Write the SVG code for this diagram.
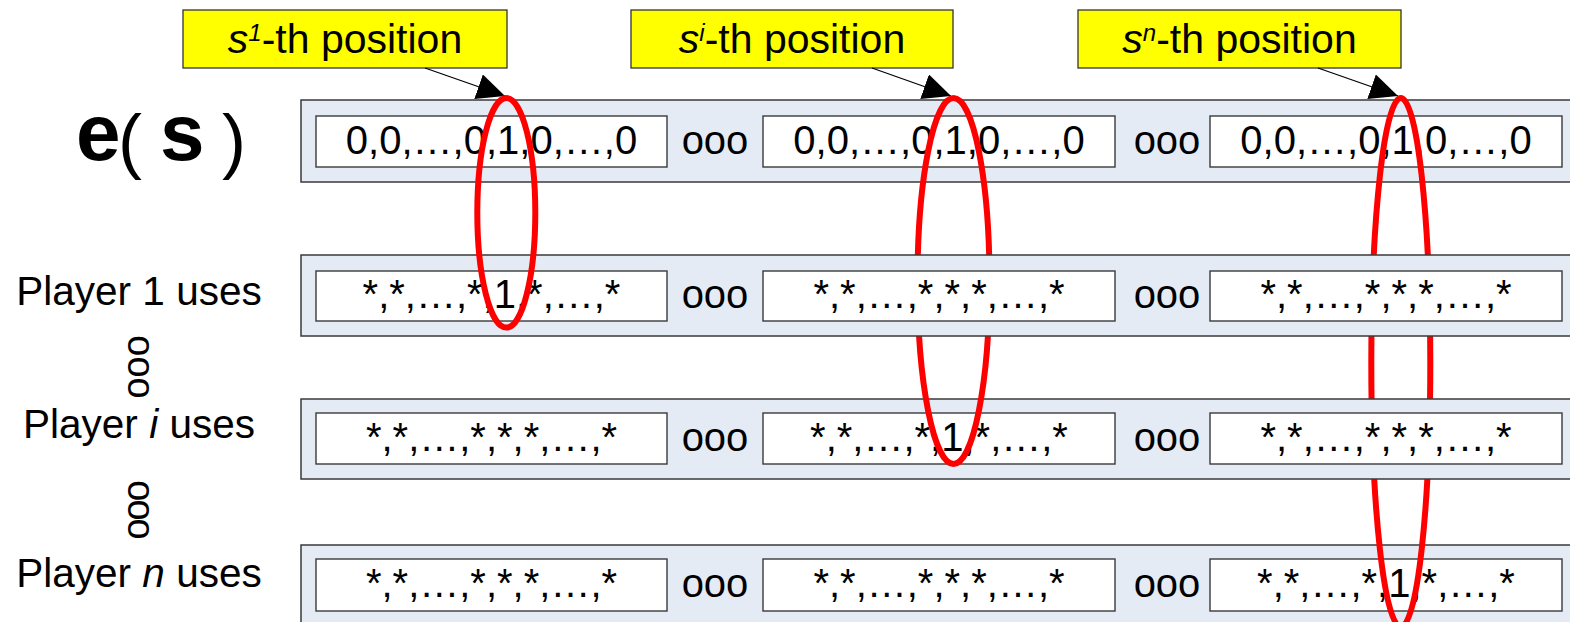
<svg xmlns="http://www.w3.org/2000/svg" width="1570" height="622" viewBox="0 0 1570 622">
  <style>
    text { font-family: "Liberation Sans", Arial, sans-serif; fill: #000; }
    .row { fill: #E4EBF5; stroke: #3a3a3a; stroke-width: 1.5; }
    .cell { fill: #FFFFFF; stroke: #3a3a3a; stroke-width: 1.4; }
    .vec { font-size: 40px; text-anchor: middle; }
    .gap { font-size: 40px; text-anchor: middle; }
    .lbl { font-size: 40.5px; text-anchor: middle; }
    .call { fill: #FFFF00; stroke: #333; stroke-width: 1.3; }
    .ctext { font-size: 41px; text-anchor: middle; }
    .sup { font-size: 24px; font-style: italic; }
    .ring { fill: none; stroke: #FF0000; stroke-width: 6; }
    .arrow { stroke: #000; stroke-width: 1.3; fill: none; marker-end: url(#head); }
    .vdots { font-size: 38px; text-anchor: middle; }
    .big { font-size: 80px; font-weight: bold; }
    .paren { font-size: 72px; }
  </style>
  <defs>
    <marker id="head" viewBox="0 0 28 26" refX="28" refY="13" markerWidth="28" markerHeight="26" markerUnits="userSpaceOnUse" orient="auto">
      <path d="M0,0 L28,13 L0,26 z" fill="#000"/>
    </marker>
  </defs>

  <!-- row labels -->
  <g id="label-es">
    <text class="big" x="76" y="160">e</text>
    <text class="paren" x="118" y="165">(</text>
    <text class="big" x="160" y="160">s</text>
    <text class="paren" x="222" y="165">)</text>
  </g>
  <g id="label-player1"><text class="lbl" x="139" y="305">Player 1 uses</text></g>
  <g id="dots-1"><text class="vdots" x="0" y="9" transform="translate(136.5,367) rotate(90)">ooo</text></g>
  <g id="label-playeri"><text class="lbl" x="139" y="438">Player <tspan font-style="italic">i</tspan> uses</text></g>
  <g id="dots-2"><text class="vdots" x="0" y="9" letter-spacing="-2" transform="translate(136.5,509) rotate(90)">ooo</text></g>
  <g id="label-playern"><text class="lbl" x="139" y="587">Player <tspan font-style="italic">n</tspan> uses</text></g>

  <!-- callouts -->
  <g id="callout-1">
    <rect class="call" x="183" y="10" width="324" height="58"/>
    <text class="ctext" x="345" y="53"><tspan font-style="italic">s</tspan><tspan class="sup" dy="-12">1</tspan><tspan dy="12">-th position</tspan></text>
  </g>
  <g id="callout-i">
    <rect class="call" x="631" y="10" width="322" height="58"/>
    <text class="ctext" x="792" y="53"><tspan font-style="italic">s</tspan><tspan class="sup" dy="-12">i</tspan><tspan dy="12">-th position</tspan></text>
  </g>
  <g id="callout-n">
    <rect class="call" x="1078" y="10" width="323" height="58"/>
    <text class="ctext" x="1239.5" y="53"><tspan font-style="italic">s</tspan><tspan class="sup" dy="-12">n</tspan><tspan dy="12">-th position</tspan></text>
  </g>

  <!-- e(s) vector -->
  <g id="row-es">
    <rect class="row" x="301" y="100" width="1290" height="82"/>
    <rect class="cell" x="316" y="116" width="351" height="51"/>
    <rect class="cell" x="763" y="116" width="352" height="51"/>
    <rect class="cell" x="1210" y="116" width="352" height="51"/>
    <text class="vec" x="491.5" y="154">0,0,…,0,1,0,…,0</text>
    <text class="gap" x="715" y="154">ooo</text>
    <text class="vec" x="939" y="154">0,0,…,0,1,0,…,0</text>
    <text class="gap" x="1167" y="154">ooo</text>
    <text class="vec" x="1386" y="154">0,0,…,0,1,0,…,0</text>
  </g>

  <!-- player n strategy -->
  <g id="row-playern">
    <rect class="row" x="301" y="545" width="1290" height="81"/>
    <rect class="cell" x="316" y="559" width="351" height="52"/>
    <rect class="cell" x="763" y="559" width="352" height="52"/>
    <rect class="cell" x="1210" y="559" width="352" height="52"/>
    <text class="vec" x="491.5" y="597">*,*,…,*,*,*,…,*</text>
    <text class="gap" x="715" y="597">ooo</text>
    <text class="vec" x="939" y="597">*,*,…,*,*,*,…,*</text>
    <text class="gap" x="1167" y="597">ooo</text>
    <text class="vec" x="1386" y="597">*,*,…,*,1,*,…,*</text>
  </g>

  <!-- pointers from callouts -->
  <g id="connectors">
    <line class="arrow" x1="425" y1="68" x2="505" y2="96"/>
    <line class="arrow" x1="872" y1="68" x2="951" y2="96"/>
    <line class="arrow" x1="1318" y1="68" x2="1398" y2="96"/>
  </g>

  <ellipse id="ring-n" class="ring" cx="1400.8" cy="362.5" rx="29.5" ry="264.5"/>

  <!-- player i strategy -->
  <g id="row-playeri">
    <rect class="row" x="301" y="399" width="1290" height="80"/>
    <rect class="cell" x="316" y="413" width="351" height="51"/>
    <rect class="cell" x="763" y="413" width="352" height="51"/>
    <rect class="cell" x="1210" y="413" width="352" height="51"/>
    <text class="vec" x="491.5" y="451">*,*,…,*,*,*,…,*</text>
    <text class="gap" x="715" y="451">ooo</text>
    <text class="vec" x="939" y="451">*,*,…,*,1,*,…,*</text>
    <text class="gap" x="1167" y="451">ooo</text>
    <text class="vec" x="1386" y="451">*,*,…,*,*,*,…,*</text>
  </g>

  <ellipse id="ring-i" class="ring" cx="953.5" cy="281" rx="36" ry="183"/>

  <!-- player 1 strategy -->
  <g id="row-player1">
    <rect class="row" x="301" y="255" width="1290" height="81"/>
    <rect class="cell" x="316" y="271" width="351" height="50"/>
    <rect class="cell" x="763" y="271" width="352" height="50"/>
    <rect class="cell" x="1210" y="271" width="352" height="50"/>
    <text class="vec" x="491.5" y="308">*,*,…,*,1,*,…,*</text>
    <text class="gap" x="715" y="308">ooo</text>
    <text class="vec" x="939" y="308">*,*,…,*,*,*,…,*</text>
    <text class="gap" x="1167" y="308">ooo</text>
    <text class="vec" x="1386" y="308">*,*,…,*,*,*,…,*</text>
  </g>

  <ellipse id="ring-1" class="ring" cx="506.3" cy="212.8" rx="29" ry="114.8"/>
</svg>
